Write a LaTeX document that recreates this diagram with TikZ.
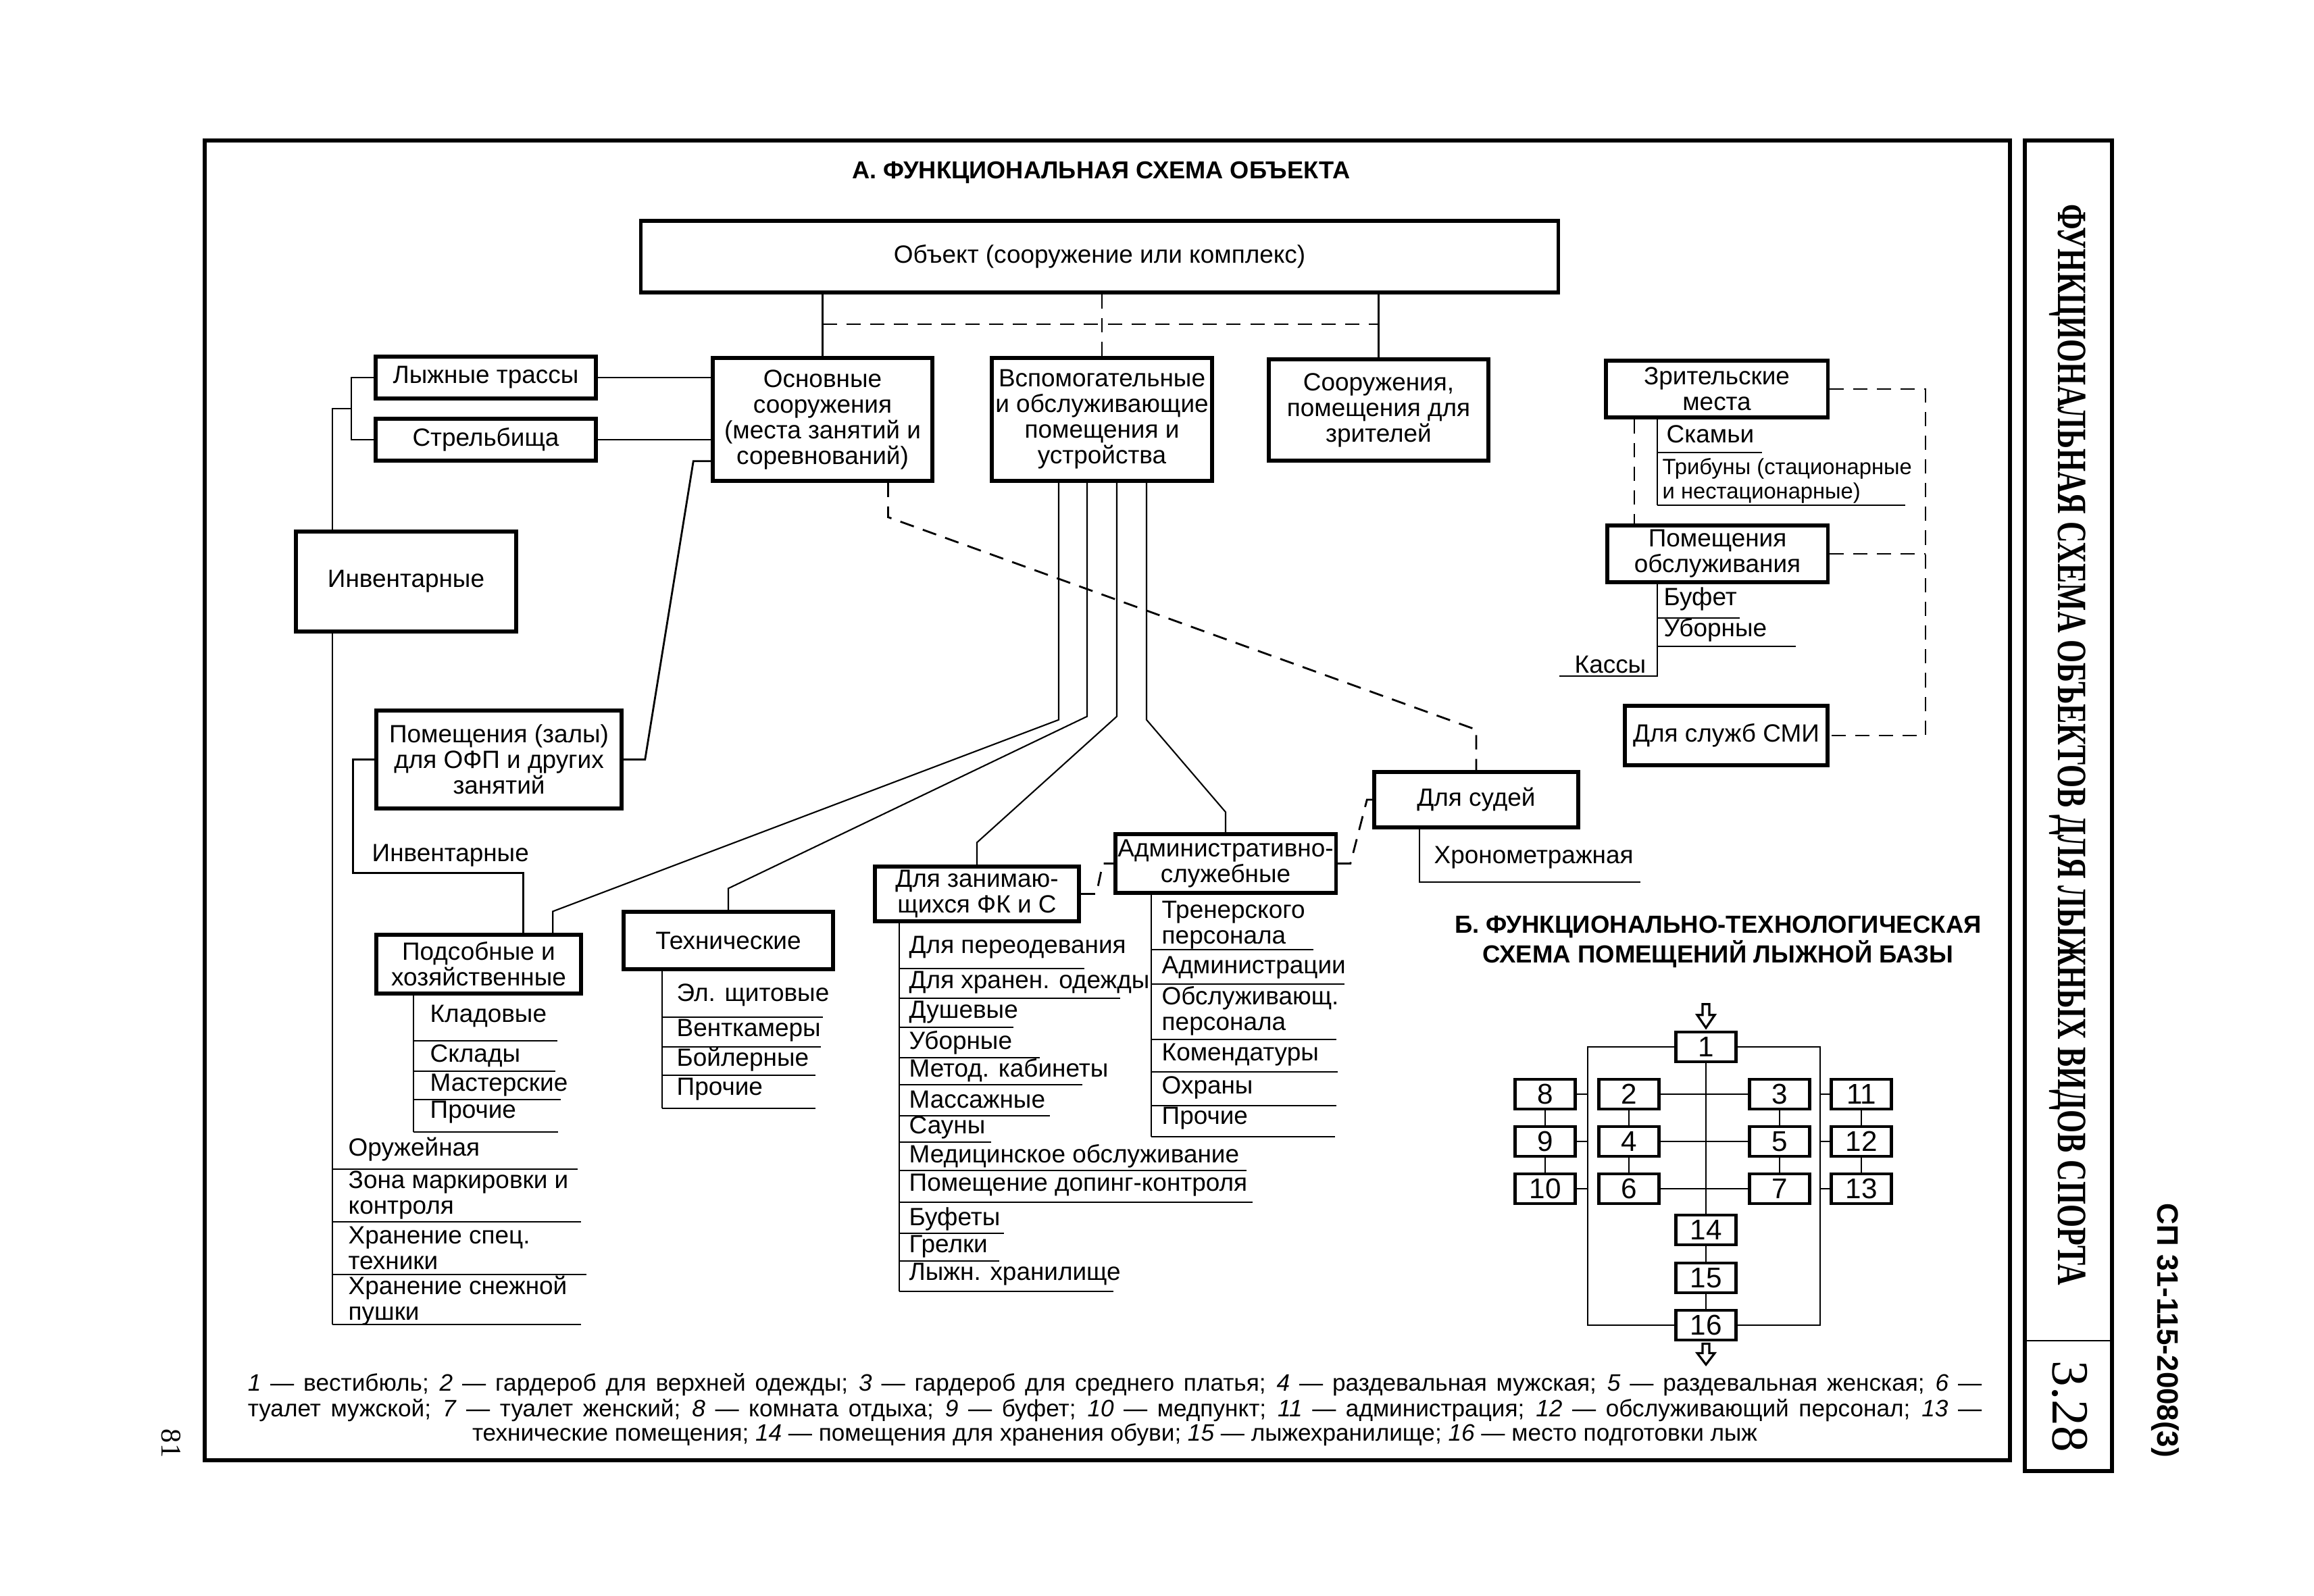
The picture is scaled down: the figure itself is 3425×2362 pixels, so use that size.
\documentclass[tikz,border=0pt]{standalone}
\usepackage{fontspec}
\usepackage{graphicx}
\setmainfont{Liberation Sans}
\newfontfamily\serifface{Liberation Serif}
\usetikzlibrary{calc}

\tikzset{
	box/.style={draw,line width=1.5pt,align=center,inner sep=1pt,font=\fontsize{10.5}{10.8}\selectfont},
	numbox/.style={draw,line width=1.3pt,minimum width=0.89cm,minimum height=0.44cm,inner sep=0pt,font=\fontsize{12}{12}\selectfont},
	item/.style={anchor=west,inner sep=0pt,align=left,font=\fontsize{10.5}{10.8}\selectfont},
	lnk/.style={line width=0.8pt},
	thinlnk/.style={line width=0.6pt},
	dlnk/.style={line width=0.8pt,dash pattern=on 6pt off 4pt},
}

\begin{document}
\begin{tikzpicture}[x=0.01cm,y=-0.01cm]
	\useasboundingbox (0,0) rectangle (3425,2362);
	\draw[line width=1.6pt] (303,208) rectangle (2975,2162);
	\draw[line width=1.6pt] (2997,208) rectangle (3126,2178);
	\draw[lnk] (2997,1985) -- (3126,1985);
	\node[rotate=-90,inner sep=0pt] (sheettitle) at (3060,1103) {\resizebox{16.0cm}{\height}{\serifface\bfseries\fontsize{17.5}{17.5}\selectfont ФУНКЦИОНАЛЬНАЯ СХЕМА ОБЪЕКТОВ ДЛЯ ЛЫЖНЫХ ВИДОВ СПОРТА}};
	\node[rotate=-90,font=\serifface\fontsize{22}{22}\selectfont] (sheetno) at (3064,2082) {3.28};
	\node[rotate=-90,font=\bfseries\fontsize{12.5}{12.5}\selectfont] (code) at (3205,1970) {СП 31-115-2008(3)};
	\node[rotate=-90,font=\serifface\fontsize{12}{12}\selectfont] (pageno) at (253,2137) {81};

	% A
	\node[font=\bfseries\fontsize{10.3}{10.3}\selectfont] (titleA) at (1630,255) {А. ФУНКЦИОНАЛЬНАЯ СХЕМА ОБЪЕКТА};
	\node[box,minimum width=13.57cm,minimum height=1.06cm] (obj) at (1627.5,380) {Объект (сооружение или комплекс)};
	\node[box,minimum width=3.25cm,minimum height=1.82cm] (osn) at (1217.5,621) {Основные\\сооружения\\(места занятий и\\соревнований)};
	\node[box,minimum width=3.26cm,minimum height=1.82cm] (vsp) at (1631,621) {Вспомогательные\\и обслуживающие\\помещения и\\устройства};
	\node[box,minimum width=3.25cm,minimum height=1.50cm] (soor) at (2040.5,607) {Сооружения,\\помещения для\\зрителей};
	\node[box,minimum width=3.26cm,minimum height=0.62cm] (trassy) at (719,559) {Лыжные трассы};
	\node[box,minimum width=3.26cm,minimum height=0.62cm] (strel) at (719,651) {Стрельбища};
	\node[box,minimum width=3.26cm,minimum height=1.48cm] (invent) at (601,861) {Инвентарные};
	\node[box,minimum width=3.63cm,minimum height=1.45cm] (zaly) at (738.5,1124.5) {Помещения (залы)\\для ОФП и других\\занятий};
	\node[box,minimum width=3.03cm,minimum height=0.87cm] (podsob) at (708.5,1427.5) {Подсобные и\\хозяйственные};
	\node[box,minimum width=3.10cm,minimum height=0.85cm] (tehn) at (1078,1392.5) {Технические};
	\node[box,minimum width=3.02cm,minimum height=0.81cm] (fk) at (1446,1323.5) {Для занимаю-\\щихся ФК и С};
	\node[box,minimum width=3.02cm,minimum height=0.87cm] (adm) at (1814,1278.5) {Административно-\\служебные};
	\node[box,minimum width=3.02cm,minimum height=0.82cm] (sudey) at (2185,1184) {Для судей};
	\node[box,minimum width=3.28cm,minimum height=0.84cm] (zrit) at (2541,576) {Зрительские\\места};
	\node[box,minimum width=3.26cm,minimum height=0.84cm] (pomobs) at (2542,820) {Помещения\\обслуживания};
	\node[box,minimum width=3.00cm,minimum height=0.88cm] (smi) at (2555,1089) {Для служб СМИ};

	\coordinate (objbus) at (0,480);
	\draw[lnk] (obj.south -| osn.north) -- (osn.north);
	\draw[dlnk] (obj.south -| vsp.north) -- (vsp.north);
	\draw[lnk] (obj.south -| soor.north) -- (soor.north);
	\draw[dlnk] (objbus -| osn.north) -- (objbus -| soor.north);

	\draw[lnk] (trassy.east) -- (trassy.east -| osn.west);
	\draw[lnk] (strel.east) -- (strel.east -| osn.west);
	\coordinate (brk) at (520,605);
	\coordinate (spInv) at (492,1961);
	\draw[lnk] (trassy.west) -| (brk) |- (strel.west);
	\draw[lnk] (brk) -- (brk -| spInv) -- (invent.north -| spInv);
	\draw[lnk] (invent.south -| spInv) -- (spInv);
	\draw[lnk] ($(osn.south west)+(0,-32)$) -- ++(-26,0) -- ($(zaly.east)+(32,0)$) -- (zaly.east);
	\draw[lnk] (zaly.west) -- ++(-32,0) |- ($(podsob.north west)+(220,-89)$) -- ($(podsob.north west)+(220,0)$);
	\node[item] (inv2) at (550,1267) {Инвентарные};

	\draw[thinlnk] ($(vsp.south)+(-64,0)$) -- ++(0,351) -- ($(podsob.north west)+(264,-32)$) -- ($(podsob.north west)+(264,0)$);
	\draw[thinlnk] ($(vsp.south)+(-22,0)$) -- ++(0,346) -- ($(tehn.north)+(0,-32)$) -- (tehn.north);
	\draw[thinlnk] ($(vsp.south)+(22,0)$) -- ++(0,346) -- ($(fk.north)+(0,-33)$) -- (fk.north);
	\draw[thinlnk] ($(vsp.south)+(66,0)$) -- ++(0,351) -- ($(adm.north)+(0,-30)$) -- (adm.north);
	\draw[dlnk] ($(osn.south)+(97,0)$) -- ++(0,51) -- ($(sudey.north)+(0,-60)$) -- (sudey.north);
	\draw[dlnk] (fk.east) -- ++(23,0) -- ($(adm.west)+(-16,0)$) -- (adm.west);
	\draw[dlnk] (adm.east) -- ++(19,0) -- ($(sudey.west)+(-8,0)$) -- (sudey.west);

	% lists
	\foreach \t/\ty/\ly/\lx [count=\i] in {Оружейная/1702/1731/855,{Зона маркировки и\\контроля}/1769/1809/860,{Хранение спец.\\техники}/1848/1887/868,{Хранение снежной\\пушки}/1926/1961/860}{
		\node[item] (inv\i) at (515,\ty) {\t};
		\draw[lnk] (492,\ly) -- (\lx,\ly);
	}
	\coordinate (spPd) at (612,1676);
	\draw[lnk] (podsob.south -| spPd) -- (spPd);
	\foreach \t/\ty/\ly/\lx [count=\i] in {Кладовые/1504/1541/825,Склады/1563/1586/822,Мастерские/1607/1628/830,Прочие/1647/1676/826}{
		\node[item] (pd\i) at (636,\ty) {\t};
		\draw[lnk] (612,\ly) -- (\lx,\ly);
	}
	\coordinate (spTh) at (980,1641);
	\draw[lnk] (tehn.south -| spTh) -- (spTh);
	\foreach \t/\ty/\ly/\lx [count=\i] in {Эл. щитовые/1473/1506/1218,Венткамеры/1526/1550/1215,Бойлерные/1569/1592/1207,Прочие/1613/1641/1207}{
		\node[item] (th\i) at (1001,\ty) {\t};
		\draw[lnk] (980,\ly) -- (\lx,\ly);
	}
	\coordinate (spFk) at (1331,1912);
	\draw[lnk] (fk.south -| spFk) -- (spFk);
	\foreach \t/\ty/\ly/\lx [count=\i] in {Для переодевания/1403/1434/1605,Для хранен. одежды/1455/1478/1658,Душевые/1499/1521/1500,Уборные/1544/1566/1539,Метод. кабинеты/1585/1606/1602,Массажные/1628/1652/1554,Сауны/1669/1691/1467,Медицинское обслуживание/1712/1733/1845,Помещение допинг-контроля/1755/1780/1854,Буфеты/1805/1826/1486,Грелки/1846/1867/1479,Лыжн. хранилище/1887/1912/1648}{
		\node[item] (fk\i) at (1345,\ty) {\t};
		\draw[lnk] (1331,\ly) -- (\lx,\ly);
	}
	\coordinate (spAd) at (1704,1683);
	\draw[lnk] (adm.south -| spAd) -- (spAd);
	\foreach \t/\ty/\ly/\lx [count=\i] in {{Тренерского\\персонала}/1370/1406/1944,Администрации/1433/1457/1990,{Обслуживающ.\\персонала}/1497/1539/1978,Комендатуры/1562/1587/1980,Охраны/1610/1637/1978,Прочие/1656/1683/1976}{
		\node[item] (ad\i) at (1719,\ty) {\t};
		\draw[lnk] (1704,\ly) -- (\lx,\ly);
	}
	\coordinate (spSd) at (2101,1306);
	\draw[lnk] (sudey.south -| spSd) -- (spSd) -- (2428,1306);
	\node[item] (hron) at (2122,1270) {Хронометражная};

	\coordinate (rbus) at (2850,820);
	\coordinate (zl) at (2419,700);
	\draw[dlnk] (zrit.east) -| (rbus |- smi.east) -- (smi.east);
	\draw[dlnk] (pomobs.east) -- (pomobs.east -| rbus);
	\draw[dlnk] (zrit.south -| zl) -- (pomobs.north -| zl);
	\coordinate (spZr) at (2453,748);
	\draw[lnk] (zrit.south -| spZr) -- (spZr);
	\node[item] (skam) at (2466,643) {Скамьи};
	\draw[lnk] (2453,670) -- (2608,670);
	\node[item,font=\fontsize{9.3}{10.3}\selectfont] (trib) at (2460,712) {Трибуны (стационарные\\и нестационарные)};
	\draw[lnk] (2453,748) -- (2820,748);
	\coordinate (spPo) at (2453,1001);
	\draw[lnk] (pomobs.south -| spPo) -- (spPo) -- (2308,1001);
	\node[item] (bufet) at (2462,887) {Буфет};
	\draw[lnk] (2453,915) -- (2575,915);
	\node[item] (ubor) at (2462,933) {Уборные};
	\draw[lnk] (2453,957) -- (2658,957);
	\node[item] (kassy) at (2330,984) {Кассы};

	% B
	\node[align=center,font=\bfseries\fontsize{10.4}{10.3}\selectfont] (titleB) at (2543,1394) {Б. ФУНКЦИОНАЛЬНО-ТЕХНОЛОГИЧЕСКАЯ\\СХЕМА ПОМЕЩЕНИЙ ЛЫЖНОЙ БАЗЫ};
	\foreach \n/\px/\py in {1/2525/1550,8/2287/1620,2/2411/1620,3/2634/1620,11/2755/1620,9/2287/1690,4/2411/1690,5/2634/1690,12/2755/1690,10/2287/1760,6/2411/1760,7/2634/1760,13/2755/1760,14/2525/1821,15/2525/1892,16/2525/1962}
		\node[numbox] (b\n) at (\px,\py) {\n};
	\coordinate (frL) at (2350,1750);
	\coordinate (frR) at (2694,1750);
	\draw[lnk] (b1.west) -| (frL) |- (b16.west);
	\draw[lnk] (b1.east) -| (frR) |- (b16.east);
	\draw[lnk] (b1.south) -- (b14.north);
	\draw[lnk] (b14) -- (b15) -- (b16);
	\foreach \a/\b in {2/3,4/5,6/7,2/4,4/6,3/5,5/7,8/9,9/10,11/12,12/13}
		\draw[lnk] (b\a) -- (b\b);
	\foreach \n in {8,9,10}
		\draw[lnk] (b\n.east) -- (b\n.east -| frL);
	\foreach \n in {11,12,13}
		\draw[lnk] (b\n.west) -- (b\n.west -| frR);
	\draw[line width=0.9pt] ($(b1.north)+(0,-39)$) ++(-5,0) -- ++(0,16) -- ++(-8,0) -- ++(13,19) -- ++(13,-19) -- ++(-8,0) -- ++(0,-16) -- cycle;
	\draw[line width=0.9pt] ($(b16.south)+(0,3)$) ++(-5,0) -- ++(0,14) -- ++(-8,0) -- ++(13,17) -- ++(13,-17) -- ++(-8,0) -- ++(0,-14) -- cycle;

	% legend
	\node[inner sep=0pt,font=\fontsize{10}{10}\selectfont] (leg1) at (1650,2050) {\makebox[25.65cm][s]{\textit{1} — вестибюль; \textit{2} — гардероб для верхней одежды; \textit{3} — гардероб для среднего платья; \textit{4} — раздевальная мужская; \textit{5} — раздевальная женская; \textit{6} —}};
	\node[inner sep=0pt,font=\fontsize{10}{10}\selectfont] (leg2) at (1650,2088) {\makebox[25.65cm][s]{туалет мужской; \textit{7} — туалет женский; \textit{8} — комната отдыха; \textit{9} — буфет; \textit{10} — медпункт; \textit{11} — администрация; \textit{12} — обслуживающий персонал; \textit{13} —}};
	\node[inner sep=0pt,font=\fontsize{10}{10}\selectfont] (leg3) at (1650,2124) {технические помещения; \textit{14} — помещения для хранения обуви; \textit{15} — лыжехранилище; \textit{16} — место подготовки лыж};
\end{tikzpicture}
\end{document}
